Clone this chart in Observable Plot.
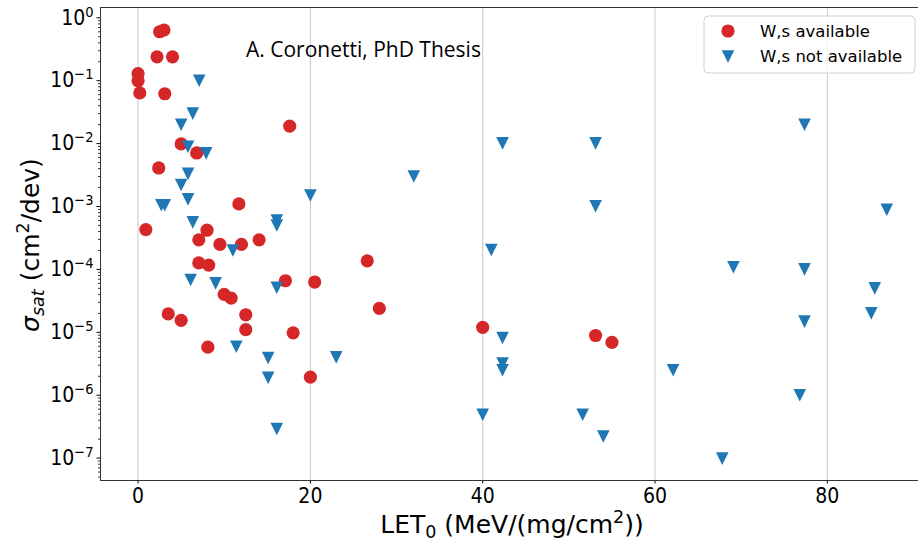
<!DOCTYPE html>
<html><head><meta charset="utf-8">
<script src="https://cdn.jsdelivr.net/npm/d3@7"></script>
<script src="https://cdn.jsdelivr.net/npm/@observablehq/plot@0.6"></script>
<style>
body{margin:0;background:#fff}
#chart{width:918px;height:541px}
text{white-space:pre}
</style>
</head><body><div id="chart"></div>
<script>
// ---- data ----
const seriesNames = ["W,s available", "W,s not available"];
const seriesColors = ["#d62728", "#1f77b4"];

const availX = [0, 0, 0.2, 2.5, 3.0, 2.2, 4.0, 3.1, 17.6, 5.0, 6.8, 2.4, 11.7, 0.9, 8.0,
  7.05, 9.5, 12.0, 14.05, 7.05, 8.2, 17.1, 20.5, 10.0, 10.8, 3.5, 5.0, 12.5, 12.5, 18.0,
  8.1, 20.0, 26.6, 28.0, 40.0, 53.1, 55.0];
const availY = [0.13, 0.10, 0.064, 0.60, 0.64, 0.24, 0.24, 0.062, 0.019, 0.0099, 0.0071, 0.0041, 0.0011, 0.00043, 0.00042,
  0.000295, 0.00025, 0.00025, 0.000295, 0.000127, 0.000117, 6.6e-5, 6.3e-5, 4.0e-5, 3.5e-5, 1.96e-5, 1.55e-5, 1.9e-5, 1.1e-5, 9.8e-6,
  5.8e-6, 1.94e-6, 1.37e-4, 2.4e-5, 1.2e-5, 8.9e-6, 6.9e-6];

const notAvailX = [7.1, 6.35, 5.0, 5.8, 7.9, 5.8, 5.0, 5.8, 2.7, 3.1, 20.0, 6.35, 16.1, 16.1, 11.0,
  6.1, 9.0, 16.1, 11.4, 15.1, 15.1, 16.1, 23.0, 32.0, 41.0, 42.3, 42.3, 42.3, 42.3, 40.0,
  53.1, 53.1, 51.6, 54.0, 62.1, 67.8, 69.1, 76.8, 77.35, 77.35, 77.35, 85.1, 85.5, 86.9];
const notAvailY = [0.1, 0.030, 0.020, 0.0089, 0.0070, 0.0033, 0.0022, 0.0013, 0.00105, 0.00105, 0.0015, 0.00056, 0.0006, 0.0005, 0.0002,
  6.8e-5, 6.0e-5, 5.1e-5, 5.9e-6, 3.9e-6, 1.9e-6, 2.9e-7, 4.0e-6, 0.0030, 0.000204, 0.0101, 8.1e-6, 3.2e-6, 2.5e-6, 4.9e-7,
  0.0101, 0.00101, 4.9e-7, 2.2e-7, 2.5e-6, 9.8e-8, 0.000108, 1.0e-6, 0.020, 0.0001, 1.48e-5, 2.0e-5, 5.0e-5, 0.00089];

const xTicks = [0, 20, 40, 60, 80];
const yTicks = [1e0, 1e-1, 1e-2, 1e-3, 1e-4, 1e-5, 1e-6, 1e-7];
const xDomain = [-4.36, 90.58];
const yDomain = [Math.pow(10, -7.356), Math.pow(10, 0.164)];

// ---- derived ----
const avail = availX.map((x, i) => ({x, y: availY[i]}));
const notAvail = notAvailX.map((x, i) => ({x, y: notAvailY[i]}));
const yMinor = [];
for (let k = -8; k <= 0; k++) for (let m = 2; m <= 9; m++) {
  const v = m * Math.pow(10, k);
  if (v >= yDomain[0] && v <= yDomain[1]) yMinor.push(v);
}
const triDown = {draw(ctx, size) {
  const h = Math.sqrt(size / Math.PI);
  ctx.moveTo(-h, -h); ctx.lineTo(h, -h); ctx.lineTo(0, h); ctx.closePath();
}};

const plot = Plot.plot({
  width: 918, height: 541,
  marginLeft: 100, marginRight: 0, marginTop: 7, marginBottom: 61,
  style: {fontFamily: "DejaVu Sans", fontSize: "20px", color: "#000", background: "#fff"},
  x: {domain: xDomain},
  y: {type: "log", domain: yDomain},
  marks: [
    Plot.gridX(xTicks, {stroke: "#b0b0b0", strokeOpacity: 0.7, strokeWidth: 1}),
    Plot.axisY(yMinor, {tickSize: 2, tickFormat: () => "", label: null, strokeWidth: 0.8}),
    Plot.axisY(yTicks, {tickSize: 3.5, tickPadding: 3.5, label: null, fontSize: 21,
      fontFamily: "DejaVu Sans Condensed",
      tickFormat: d => "10^" + Math.round(Math.log10(d))}),
    Plot.axisX(xTicks, {tickSize: 3.5, tickPadding: 4.5, label: null, fontSize: 21,
      fontFamily: "DejaVu Sans Condensed"}),
    Plot.ruleX([xDomain[0]], {stroke: "#333", strokeWidth: 1}),
    Plot.ruleY([yDomain[0]], {stroke: "#333", strokeWidth: 1}),
    Plot.ruleY([yDomain[1]], {stroke: "#333", strokeWidth: 1}),
    Plot.dot(avail, {x: "x", y: "y", r: 6.6, fill: seriesColors[0], symbol: "circle"}),
    Plot.dot(notAvail, {x: "x", y: "y", r: 6.3, fill: seriesColors[1], symbol: triDown})
  ]
});
document.getElementById("chart").appendChild(plot);

const svg = d3.select(plot);

// y tick labels as 10 with superscript exponent
svg.selectAll('g[aria-label="y-axis tick label"] text').each(function() {
  const t = this.textContent;
  if (!t.includes("^")) return;
  const e = +t.split("^")[1];
  const sel = d3.select(this);
  sel.text("");
  sel.append("tspan").text("10");
  sel.append("tspan").attr("font-size", "14.5px").attr("dy", "-8")
    .text(e < 0 ? "\u2212" + (-e) : String(e));
});

// x label
const xl = svg.append("text").attr("x", 512).attr("y", 533).attr("text-anchor", "middle")
  .style("font-family", "DejaVu Sans").style("font-size", "25px").attr("fill", "#000");
xl.append("tspan").text("LET");
xl.append("tspan").attr("font-size", "17.5px").attr("dy", "5").text("0");
xl.append("tspan").attr("dy", "-5").text(" (MeV/(mg/cm");
xl.append("tspan").attr("font-size", "17.5px").attr("dy", "-10").text("2");
xl.append("tspan").attr("dy", "10").text("))");

// y label
const yl = svg.append("text").attr("transform", "translate(39,245) rotate(-90)").attr("text-anchor", "middle")
  .style("font-family", "DejaVu Sans").style("font-size", "25px").attr("fill", "#000");
yl.append("tspan").attr("font-style", "italic").text("\u03c3");
yl.append("tspan").attr("font-style", "italic").attr("font-size", "17.5px").attr("dy", "5").text("sat");
yl.append("tspan").attr("dy", "-5").text(" (cm");
yl.append("tspan").attr("font-size", "17.5px").attr("dy", "-10").text("2");
yl.append("tspan").attr("dy", "10").text("/dev)");

// annotation
svg.append("text").attr("x", 246).attr("y", 56.5).attr("text-anchor", "start")
  .style("font-family", "Open Sans").style("font-size", "21px").attr("fill", "#000")
  .text("A. Coronetti, PhD Thesis");

// legend
const lg = svg.append("g");
lg.append("rect").attr("x", 704).attr("y", 16).attr("width", 211).attr("height", 57).attr("rx", 4)
  .attr("fill", "#fff").attr("fill-opacity", 0.8).attr("stroke", "#d0d0d0");
lg.append("circle").attr("cx", 728).attr("cy", 31).attr("r", 6.6).attr("fill", seriesColors[0]);
lg.append("path").attr("d", "M721.7,50.2L734.3,50.2L728,62.8Z").attr("fill", seriesColors[1]);
seriesNames.forEach((n, i) => {
  lg.append("text").attr("x", 760).attr("y", i === 0 ? 31 : 56).attr("dy", "0.35em").attr("text-anchor", "start")
    .style("font-family", "DejaVu Sans").style("font-size", "16.5px").attr("fill", "#000").text(n);
});
</script>
</body></html>
